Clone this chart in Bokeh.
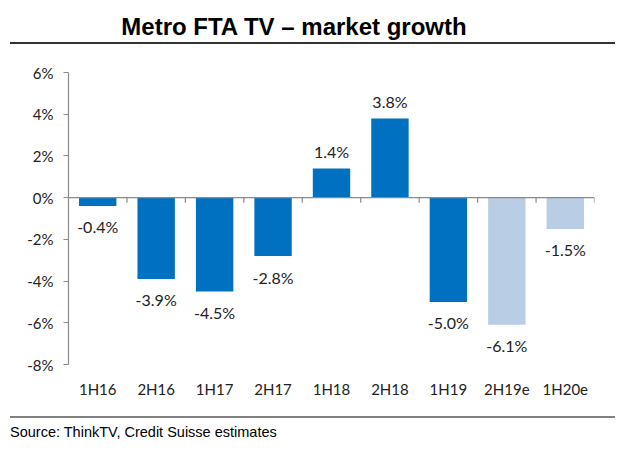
from bokeh.plotting import figure
from bokeh.models import (ColumnDataSource, FactorRange, Range1d, Span, Div,
                          FixedTicker, PrintfTickFormatter)
from bokeh.layouts import column
from bokeh.core.properties import value
from bokeh.embed import file_html
from bokeh.resources import INLINE

# ---- data ----
categories = ["1H16", "2H16", "1H17", "2H17", "1H18", "2H18", "1H19", "2H19e", "1H20e"]
growth = [-0.4, -3.9, -4.5, -2.8, 1.4, 3.8, -5.0, -6.1, -1.5]
y_ticks = [-8, -6, -4, -2, 0, 2, 4, 6]
title_text = "Metro FTA TV – market growth"
source_text = "Source: ThinkTV, Credit Suisse estimates"

DARK = "#0070C0"
LIGHT = "#B9CDE5"
colors = [LIGHT if c.endswith("e") else DARK for c in categories]
labels = [f"{v:.1f}%" for v in growth]
offsets = [-17 if v >= 0 else 21 for v in growth]

src = ColumnDataSource(dict(x=categories, top=growth, color=colors,
                            label=labels, yoff=offsets))

title_div = Div(
    text=(f'<div style="width:605px;height:44px;border-bottom:2px solid #333;'
          f'font-family:\'Liberation Sans\',Arial,sans-serif;font-weight:bold;'
          f'font-size:24px;line-height:26px;padding-top:14px;box-sizing:border-box;'
          f'text-align:center;padding-right:37px;color:#000;">{title_text}</div>'),
    width=605, height=44, margin=(0, 0, 0, 10))

p = figure(width=630, height=372, x_range=FactorRange(*categories, range_padding=0),
           y_range=Range1d(-8, 6), output_backend="svg", toolbar_location=None,
           min_border=0, margin=(0, 0, 0, 0))
p.min_border_left = 68
p.min_border_right = 36
p.min_border_top = 28
p.min_border_bottom = 52
p.outline_line_color = None
p.background_fill_color = "white"
p.border_fill_color = "white"
p.xgrid.visible = False
p.ygrid.visible = False

p.vbar(x="x", top="top", bottom=0, width=0.64, fill_color="color",
       line_color=None, source=src)

p.text(x="x", y="top", text="label", y_offset="yoff", source=src,
       text_align="center", text_baseline="middle",
       text_font=value("Lato"), text_font_size="16px", text_color="#222222")

# zero line and category boundary ticks
p.add_layout(Span(location=0, dimension="width", line_color="#8a8a8a", line_width=1.2))
bounds = list(range(1, len(categories) + 1))
p.segment(x0=bounds, x1=bounds, y0=[0] * len(bounds), y1=[-0.25] * len(bounds),
          line_color="#8a8a8a", line_width=1.2)

# y axis
ya = p.yaxis[0]
ya.ticker = FixedTicker(ticks=y_ticks)
ya.formatter = PrintfTickFormatter(format="%d%%")
ya.axis_line_color = "#8a8a8a"
ya.axis_line_width = 1.2
ya.major_tick_line_color = "#8a8a8a"
ya.major_tick_out = 5
ya.major_tick_in = 0
ya.minor_tick_line_color = None
ya.major_label_standoff = 10
ya.major_label_text_font = "Lato"
ya.major_label_text_font_size = "15px"
ya.major_label_text_color = "#222222"

# x axis
xa = p.xaxis[0]
xa.axis_line_color = None
xa.major_tick_line_color = None
xa.major_tick_out = 0
xa.major_tick_in = 0
xa.minor_tick_line_color = None
xa.major_label_standoff = 15
xa.major_label_text_font = "Lato"
xa.major_label_text_font_size = "15px"
xa.major_label_text_color = "#222222"

source_div = Div(
    text=(f'<div style="width:605px;height:32px;border-top:2px solid #808080;'
          f'font-family:\'Liberation Sans\',Arial,sans-serif;font-size:14.5px;'
          f'line-height:17px;padding-top:6px;box-sizing:border-box;color:#000;">'
          f'{source_text}</div>'),
    width=605, height=34, margin=(0, 0, 0, 10))

layout = column(title_div, p, source_div, spacing=0)

open("out.html", "w").write(file_html(layout, INLINE))
